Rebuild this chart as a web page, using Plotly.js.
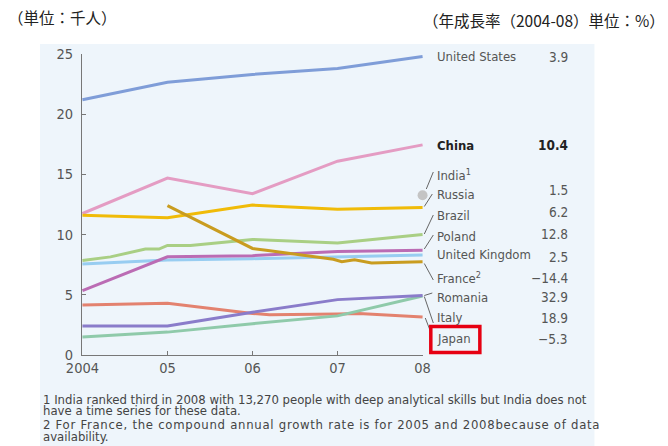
<!DOCTYPE html>
<html>
<head>
<meta charset="utf-8">
<script src="https://cdn.plot.ly/plotly-3.0.1.min.js"></script>
<style>
html,body{margin:0;padding:0;background:#fff;}
#chart{width:668px;height:446px;}
</style>
</head>
<body>
<div id="chart"></div>
<script>
// ---- data ----
const years = [2004, 2005, 2006, 2007, 2008];
const yearTickText = ["2004", "05", "06", "07", "08"];
const usValues = [21.2, 22.65, 23.3, 23.8, 24.8];
const chinaValues = [11.75, 14.7, 13.4, 16.1, 17.45];
const russiaValues = [11.6, 11.4, 12.45, 12.1, 12.25];
const franceYears = [2005, 2006, 2006.16, 2006.95, 2007.05, 2007.2, 2007.4, 2008];
const franceValues = [12.4, 8.85, 8.7, 7.95, 7.75, 7.9, 7.65, 7.75];
const brazilYears = [2004, 2004.33, 2004.74, 2004.9, 2005, 2005.27, 2006, 2007, 2008];
const brazilValues = [7.85, 8.15, 8.8, 8.8, 9.1, 9.1, 9.6, 9.3, 10.0];
const polandValues = [5.35, 8.15, 8.25, 8.6, 8.7];
const ukValues = [7.55, 7.9, 8.0, 8.15, 8.3];
const purpleValues = [2.4, 2.4, 3.55, 4.6, 4.95];
const tealValues = [1.5, 1.9, 2.6, 3.25, 4.9];
const japanYears = [2004, 2005, 2006, 2006.2, 2007, 2007.25, 2008];
const japanValues = [4.15, 4.3, 3.45, 3.35, 3.4, 3.45, 3.15];
const indiaYear = [2008];
const indiaValue = [13.27];
const countryLabels = ["United States", "China", "India<sup>1</sup>", "Russia", "Brazil", "Poland", "United Kingdom", "France<sup>2</sup>", "Romania", "Italy", "Japan"];
const growthRates = ["3.9", "10.4", "", "1.5", "6.2", "12.8", "2.5", "\u221214.4", "32.9", "18.9", "\u22125.3"];
const footnotes = [
  "1 India ranked third in 2008 with 13,270 people with deep analytical skills but India does not",
  "have a time series for these data.",
  "2 For France, the compound annual growth rate is for 2005 and 2008because of data",
  "availability."
];

// ---- geometry helpers (pixel -> paper) ----
const W = 668, H = 446;
const L = 82, R = 668 - 422.7, T = 54, B = 446 - 355;
const PW = W - L - R, PH = H - T - B;
const X = px => (px - L) / PW;
const Y = py => (H - B - py) / PH;

const FONT = '"DejaVu Sans Condensed", "DejaVu Sans", sans-serif';
const CJK = '"Noto Sans CJK JP", sans-serif';

function line(x, y, color, name) {
  return {x: x, y: y, type: 'scatter', mode: 'lines', name: name,
    line: {color: color, width: 3}, hoverinfo: 'skip'};
}
const traces = [
  line(years, usValues, '#7f9dd8', 'United States'),
  line(years, chinaValues, '#e49cc3', 'China'),
  line(years, ukValues, '#98cdf1', 'United Kingdom'),
  line(brazilYears, brazilValues, '#a9cf84', 'Brazil'),
  line(years, polandValues, '#bb6cb4', 'Poland'),
  line(years, russiaValues, '#f0bb08', 'Russia'),
  line(franceYears, franceValues, '#c99c1f', 'France'),
  line(japanYears, japanValues, '#e3826f', 'Japan'),
  line(years, tealValues, '#8fcaaa', 'Romania'),
  line(years, purpleValues, '#8a7cca', 'Italy'),
  {x: indiaYear, y: indiaValue, type: 'scatter', mode: 'markers', name: 'India',
   marker: {color: '#c4c4c4', size: 10}, cliponaxis: false, hoverinfo: 'skip'}
];

// label rows (pixel positions of label and value centres)
const labelY = [57, 145, 175, 194, 215.5, 236, 254.5, 277.5, 297.5, 317.5, 338.5];
const valueY = [57, 145, 175, 190, 211.5, 234, 257, 277.5, 296.5, 317.5, 339.3];

const annotations = [];
countryLabels.forEach((t, i) => {
  const bold = i === 1;
  annotations.push({xref: 'paper', yref: 'paper', x: X(435), y: Y(labelY[i]), xanchor: 'left', yanchor: 'middle',
    text: bold ? '<b>' + t + '</b>' : t, showarrow: false,
    font: {family: FONT, size: 13, color: bold ? '#222' : '#555'}});
  annotations.push({xref: 'paper', yref: 'paper', x: X(570), y: Y(valueY[i]), xanchor: 'right', yanchor: 'middle',
    text: growthRates[i] ? (bold ? '<b>' + growthRates[i] + '</b>' : growthRates[i]) : ' ', showarrow: false,
    font: {family: FONT, size: 13.5, color: bold ? '#222' : '#555'}});
});
// indices 22..25 are the footnotes
const footY = [399, 411, 424, 436.5];
footnotes.forEach((t, i) => {
  annotations.push({xref: 'paper', yref: 'paper', x: X(41), y: Y(footY[i]), xanchor: 'left', yanchor: 'middle',
    text: t, showarrow: false, font: {family: FONT, size: 13, color: '#444'}});
});
annotations.push({xref: 'paper', yref: 'paper', x: X(6), y: Y(17), xanchor: 'left', yanchor: 'middle',
  text: '（単位：千人）', showarrow: false, font: {family: CJK, size: 15.5, color: '#222'}});
annotations.push({xref: 'paper', yref: 'paper', x: X(666), y: Y(20), xanchor: 'right', yanchor: 'middle',
  text: '（年成長率（2004-08）単位：%）', showarrow: false, font: {family: CJK, size: 15.5, color: '#222'}});

// leader lines (pixel coordinates)
const leaders = [
  [426, 189, 433, 172],
  [424, 206.5, 432, 194],
  [424, 234, 433, 215],
  [424, 249, 433, 235],
  [424, 263.5, 433, 280],
  [424, 295.5, 432, 293],
  [424, 296.5, 433, 323],
  [425, 318, 430, 331]
];
const shapes = [
  {type: 'rect', xref: 'paper', yref: 'paper', x0: X(40), x1: X(594), y0: Y(446), y1: Y(44),
   fillcolor: '#eef5fb', line: {width: 0}, layer: 'below'}
];
leaders.forEach(l => shapes.push({type: 'line', xref: 'paper', yref: 'paper',
  x0: X(l[0]), y0: Y(l[1]), x1: X(l[2]), y1: Y(l[3]), line: {color: '#666', width: 1}}));
shapes.push({type: 'rect', xref: 'paper', yref: 'paper', x0: X(430.5), x1: X(479.5), y0: Y(352.5), y1: Y(326.5),
  line: {color: '#e60012', width: 3.5}, fillcolor: 'rgba(0,0,0,0)'});

const layout = {
  width: W, height: H,
  margin: {l: L, r: R, t: T, b: B, pad: 0},
  paper_bgcolor: '#ffffff', plot_bgcolor: 'rgba(0,0,0,0)',
  showlegend: false,
  font: {family: FONT, color: '#555'},
  xaxis: {range: [2003.995, 2008.005], tickvals: years, ticktext: yearTickText,
    showline: true, linecolor: '#777', linewidth: 1, ticks: 'inside', ticklen: 4, tickcolor: '#777',
    showgrid: false, zeroline: false, tickfont: {family: FONT, size: 14.5, color: '#555'}, fixedrange: true},
  yaxis: {range: [0, 25], tickvals: [0, 5, 10, 15, 20, 25],
    showline: true, linecolor: '#777', linewidth: 1, ticks: 'inside', ticklen: 4, tickcolor: '#777',
    showgrid: false, zeroline: false, tickfont: {family: FONT, size: 14.5, color: '#555'}, ticklabelstandoff: 5, fixedrange: true},
  annotations: annotations,
  shapes: shapes
};
Plotly.newPlot('chart', traces, layout, {staticPlot: true}).then(() => {
  // footnote line 3 is letter-spaced in the reference; keep its left edge fixed
  const el = document.querySelector('.annotation[data-index="24"] text');
  if (el) {
    const w0 = el.getBBox().width;
    el.style.letterSpacing = '0.72px';
    const w1 = el.getBBox().width;
    const x0 = parseFloat(el.getAttribute('x')) || 0;
    el.setAttribute('x', x0 + (w1 - w0) / 2);
  }
});
</script>
</body>
</html>
